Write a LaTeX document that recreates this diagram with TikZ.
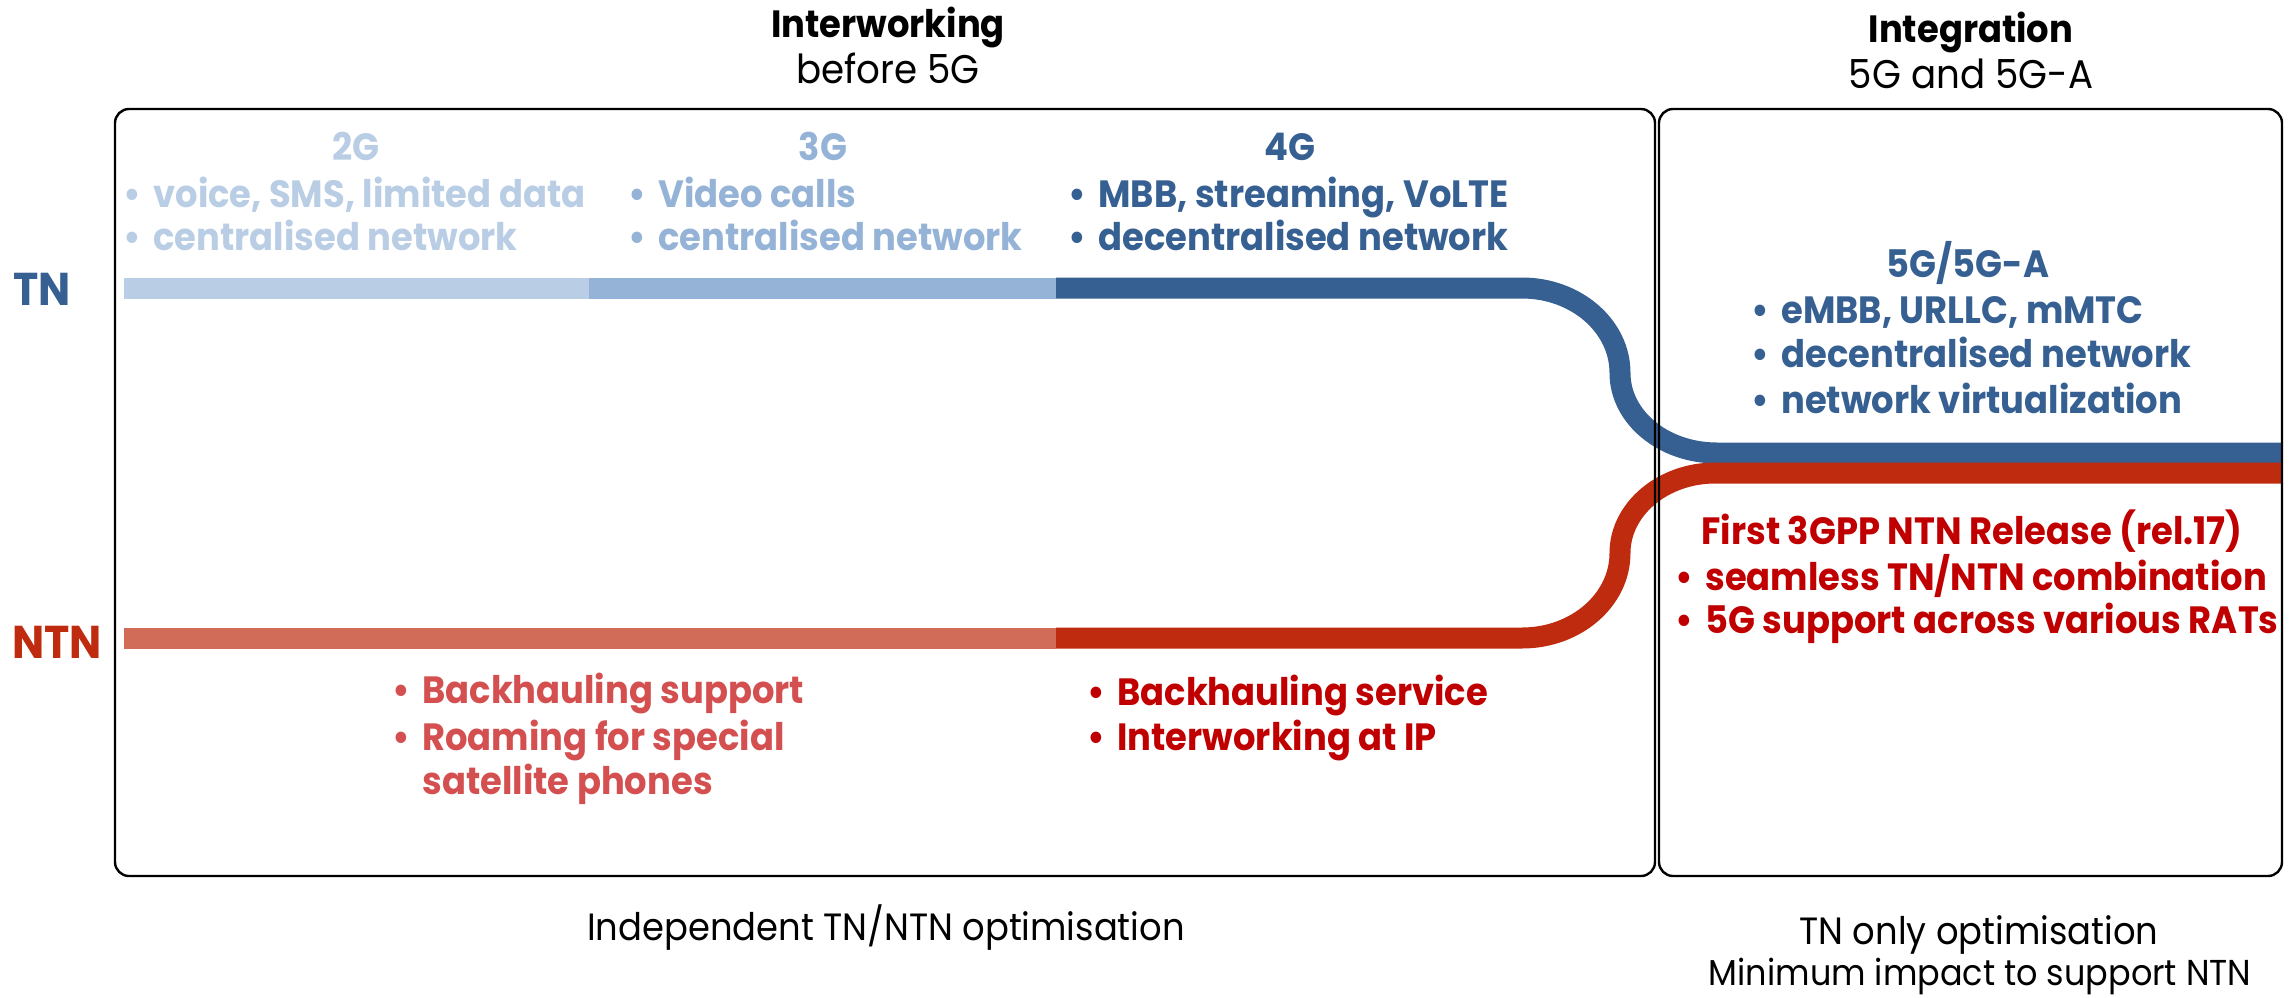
\documentclass[tikz,border=0pt]{standalone}
\usepackage{fontspec}
\setmainfont{Poppins}
\newfontfamily\geo[FakeStretch=0.93]{Poppins}
\definecolor{gtwo}{RGB}{185,205,229}
\definecolor{gthree}{RGB}{149,179,215}
\definecolor{gfour}{RGB}{55,96,146}
\definecolor{ntnlight}{RGB}{208,108,88}
\definecolor{ntndark}{RGB}{190,43,14}
\definecolor{ntntext}{RGB}{212,80,80}
\definecolor{reltext}{RGB}{192,0,0}
\newcommand\bl[1]{\llap{\textbullet\hspace{6pt}}#1}
\begin{document}
\begin{tikzpicture}[x=0.5pt,y=-0.5pt,
  lbl/.style={inner sep=0pt, font=\geo\bfseries\fontsize{19}{23}\selectfont},
  item/.style={lbl, anchor=base west},
  head/.style={lbl, anchor=base},
  subtitle/.style={inner sep=0pt, anchor=base, font=\geo\fontsize{20}{24}\selectfont},
  foot/.style={inner sep=0pt, anchor=base, font=\geo\fontsize{19}{23}\selectfont},
  side/.style={inner sep=0pt, anchor=base, font=\geo\bfseries\fontsize{23}{27}\selectfont},
  bar/.style={line width=10.5pt},
  panel/.style={draw=black, line width=1.2pt, rounded corners=7pt}]
\useasboundingbox (0,0) rectangle (2293,997);

% ---- TN timeline
\coordinate (tnA) at (124,288);
\coordinate (tnB) at (589,288);
\coordinate (tnC) at (1056,288);
\coordinate (tnD) at (1522,288);
\coordinate (tnE) at (2282,453);
\draw[bar, gtwo] (tnA) -- (tnB);
\draw[bar, gthree] (tnB) -- (tnC);
\draw[bar, gfour] (tnC) -- (tnD)
  .. controls (1576,288) and (1620,326) .. (1620,373)
  .. controls (1620,417) and (1663,453) .. (1717,453) -- (tnE);

% ---- NTN timeline
\coordinate (ntA) at (124,638);
\coordinate (ntC) at (1056,638);
\coordinate (ntD) at (1522,638);
\coordinate (ntE) at (2282,473);
\draw[bar, ntnlight] (ntA) -- (ntC);
\draw[bar, ntndark] (ntC) -- (ntD)
  .. controls (1576,638) and (1620,600) .. (1620,553)
  .. controls (1620,509) and (1663,473) .. (1715,473) -- (ntE);

% ---- panels
\draw[panel] (115,109) rectangle (1655,876);
\draw[panel] (1659,109) rectangle (2282,876);

% ---- column titles
\node[head] (iw) at (888,37) {Interworking};
\node[subtitle] (iwsub) at (888,83) {before 5G};
\node[head] (ig) at (1971,42) {Integration};
\node[subtitle] (igsub) at (1971,88) {5G and 5G-A};

% ---- row labels
\node[side, text=gfour] (tn) at (42,305) {TN};
\node[side, text=ntndark] (ntn) at (57,658) {NTN};

% ---- TN generations
\node[head, text=gtwo] (h2) at (356,160) {2G};
\node[item, text=gtwo] (h2a) at (153,207) {\bl{voice, SMS, limited data}};
\node[item, text=gtwo] (h2b) at (153,250) {\bl{centralised network}};
\node[head, text=gthree] (h3) at (823,160) {3G};
\node[item, text=gthree] (h3a) at (658,207) {\bl{Video calls}};
\node[item, text=gthree] (h3b) at (658,250) {\bl{centralised network}};
\node[head, text=gfour] (h4) at (1290,160) {4G};
\node[item, text=gfour] (h4a) at (1098,207) {\bl{MBB, streaming, VoLTE}};
\node[item, text=gfour] (h4b) at (1098,250) {\bl{decentralised network}};

\node[head, text=gfour] (h5) at (1968,277) {5G/5G-A};
\node[item, text=gfour] (h5a) at (1781,323) {\bl{eMBB, URLLC, mMTC}};
\node[item, text=gfour] (h5b) at (1781,367) {\bl{decentralised network}};
\node[item, text=gfour] (h5c) at (1781,413) {\bl{network virtualization}};

% ---- NTN items
\node[item, text=ntntext] (n1a) at (422,703) {\bl{Backhauling support}};
\node[item, text=ntntext] (n1b) at (422,750) {\bl{Roaming for special}};
\node[item, text=ntntext] (n1c) at (422,794) {satellite phones};
\node[item, text=reltext] (n2a) at (1117,705) {\bl{Backhauling service}};
\node[item, text=reltext] (n2b) at (1117,750) {\bl{Interworking at IP}};

\node[item, text=reltext] (r17) at (1701,544) {First 3GPP NTN Release (rel.17)};
\node[item, text=reltext] (r17a) at (1705,590) {\bl{seamless TN/NTN combination}};
\node[item, text=reltext] (r17b) at (1705,633) {\bl{5G support across various RATs}};

% ---- footers
\node[foot] (f1) at (886,940) {Independent TN/NTN optimisation};
\node[foot] (f2) at (1979,944) {TN only optimisation};
\node[foot, font=\geo\fontsize{18}{22}\selectfont] (f3) at (1980,985) {Minimum impact to support NTN};
\end{tikzpicture}
\end{document}
